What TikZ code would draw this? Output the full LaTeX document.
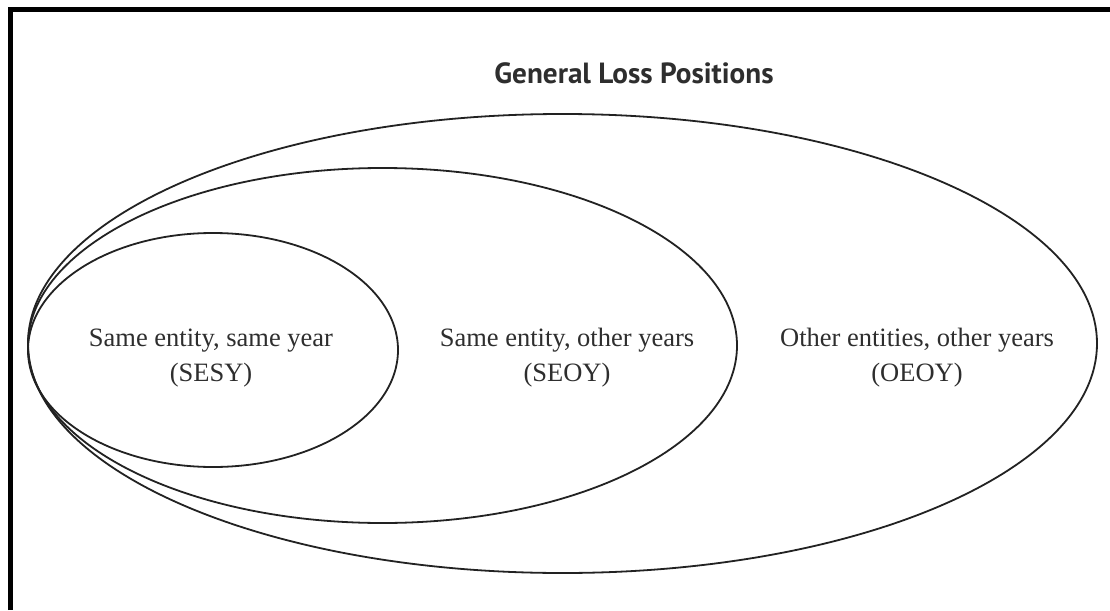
\documentclass[tikz,border=0pt]{standalone}
\usepackage{fontspec}
\setmainfont{Liberation Serif}
\newfontfamily\titlefont{PT Sans}
\usetikzlibrary{shapes.geometric}
\definecolor{ink}{HTML}{222222}
\definecolor{txt}{HTML}{2E2E2E}
\begin{document}
\begin{tikzpicture}[x=1pt,y=-1pt,
  set/.style={draw=ink, line width=1.8pt, ellipse, inner sep=0pt, outer sep=0pt},
  lab/.style={text=txt, align=center, font=\fontsize{26.5}{35}\selectfont, inner sep=0pt},
  ttl/.style={text=txt, font=\titlefont\bfseries\fontsize{29.2}{34}\selectfont, inner sep=0pt, anchor=base}]
\useasboundingbox (0,0) rectangle (1110,610);
\fill[white] (0,0) rectangle (1110,610);
% frame (top and left edges visible)
\draw[line width=5pt, black] (10.5,610) -- (10.5,10) -- (1110,10);
% title
\node[ttl] (title) at (634,83) {General Loss Positions};
% sets
\node[set, minimum width=1069pt, minimum height=459pt] (outer) at (562.5,343.5) {};
\node[set, minimum width=709pt, minimum height=355pt] (middle) at (382.5,345.5) {};
\node[set, minimum width=370pt, minimum height=234pt] (inner) at (213,350) {};
% labels
\node[lab] (sesy) at (211,358) {Same entity, same year\\(SESY)};
\node[lab] (seoy) at (567,358) {Same entity, other years\\(SEOY)};
\node[lab] (oeoy) at (917,358) {Other entities, other years\\(OEOY)};
\end{tikzpicture}
\end{document}
